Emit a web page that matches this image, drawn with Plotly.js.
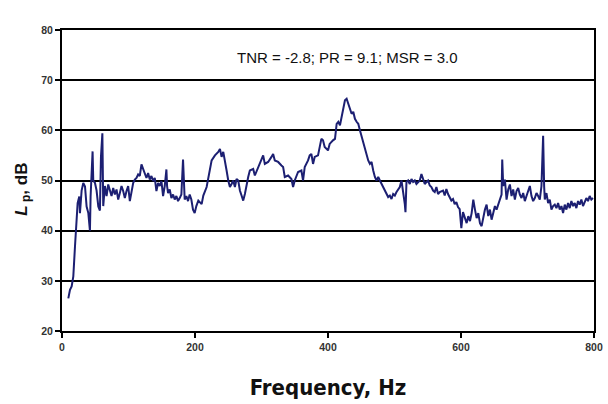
<!DOCTYPE html>
<html>
<head>
<meta charset="utf-8">
<script src="https://cdn.plot.ly/plotly-3.0.1.min.js"></script>
<style>html,body{margin:0;padding:0;background:#fff;}#chart{width:608px;height:404px;}</style>
</head>
<body>
<div id="chart"></div>
<script>
// Frequency (Hz) and sound pressure level L_p (dB)
const freqHz = [
  9.5,12,14.5,17,19.5,22,23.5,26,27,29.5,32,34.6,37,39.6,42,43,44.6,46,47,49.6,52,54.6,57,58.6,60.7,62,64.5,67,69.5,72,
  74.5,77,79.5,82,84.5,87,89.5,92,94.5,97,99.5,102,104.5,107,109.5,112,114.5,117,119.5,122,124.5,127,129.5,132,134.5,137,139.5,142,144.5,147,
  149.5,152,154.5,157,158,159.5,162,164.5,167,169.5,172,174.5,177,179.5,182,183,184.5,187,189.5,192,194.5,197,199.5,202,
  205,210,212.5,217.5,220,225,230,235,237.5,240,242.5,245,247.5,250,252.5,255,257.5,260,262.5,265,267.5,270,272.5,275,277.5,280,282.5,287.5,290,295,
  300,302.5,305,310,315,317.5,320,325,330,332.5,335,340,345,347.5,350,352.5,355,360,362.5,365,370,372.5,375,377.5,380,385,387.5,390,392.5,395,400,402.5,407.5,
  410.5,413,415.5,418,420.5,423,425.5,428,430.5,433,435.5,438,440.5,443,445.5,448,450.5,453,455.5,458,460.5,463,465.5,468,470.5,473,475.5,478,480.5,483,
  485.5,488,490.5,493,495.5,498,500.5,503,505.5,508,510.5,513,515.5,516.5,518,520.5,523,525.5,528,530.5,533,538,540.5,543,545.5,548,550.5,553,555.5,558,
  560.5,563,565.5,568,573,575.5,578,580.5,583,585.5,588,590.5,593,595.5,598,600.5,603,606,608.5,611,613.5,616,618.5,621,623.5,626,628.5,631,633.5,636,
  638.5,641,643.5,646,648.5,651,653.5,656,658.5,661,662,663.5,666,668.5,671,673.5,676,678.5,681,683.5,686,688.5,691,693.5,696,698.5,701,703.5,706,708.5,
  711,713.5,716,718.5,721,723.5,725,726,728.5,731,733.5,736,738.5,741,743.5,746,748.5,751,753.5,756,758.5,761,763.5,766,768.5,771,773.5,776,778.5,781,
  783.5,786,788.5,791,793.5,796,798.5
];
const levelDb = [
  26.5,28.2,28.9,30.9,36.8,42,45.5,46.8,43.5,48,49.5,48.8,44.8,43.5,40,46.8,52.8,55.8,50,49.5,48,44.8,44,54.8,59.4,44.9,48.9,46.9,49.2,47.9,
  46.9,48.5,47.2,48.2,46.2,47.5,48.9,47.9,46.5,47.9,48.9,45.9,48.2,49.5,50.2,50.5,51.2,50.9,53.2,52.2,51.2,50.5,51.5,50.2,50.9,49.9,50.5,47.9,49.5,48.9,
  49.9,46.9,48.9,52.2,48.9,47.5,48.2,46.5,47.2,46.2,46.9,45.9,46.5,47.2,54.2,48.9,46.2,46.9,45.9,47.2,46.2,44.2,43.5,44.9,
  46,45.3,47,48.7,50.7,54,55,55.7,56.3,54.7,55.7,53.3,52,50,48.7,49.3,50,48.7,50.3,50,48,47,46,47.3,49.3,50.7,52,52.3,51,52.7,
  54.3,55,53.3,53.7,54.7,55.3,54,53.7,53,52.7,50.7,51,50.3,48.7,50,50.7,51.7,52,50,52.7,54,55,55.3,53.3,54.7,55,57,58.3,58,56.7,56,57.3,58,
  58.3,61.3,61.7,61,62.7,64.7,66,66.3,65.3,64,63.3,63.7,62.3,61.7,61.3,60,58.7,57.3,56,54.7,54,53.3,53.7,52,50.7,50,50.7,50,49.3,48.7,
  48,47.3,46.7,47,46.3,47.3,47,47.7,48.3,48.7,50,48,45.3,43.7,49.7,50,49.3,50.3,49.7,50,49.3,50,51.3,50.3,49.3,49.7,50,49,48.7,48,
  47.7,48.7,47.3,47.7,48,47,48.3,47.3,46.7,46,46.3,45.3,45.7,44.7,44.3,40.5,43.7,42.2,41.5,42.9,41.9,43.5,46.2,44.2,42.5,43.5,41.5,40.9,42.9,44.2,
  45.2,42.9,44.2,42.2,43.5,44.9,44.2,45.5,46.2,47.2,54.2,48.9,50.2,46.2,48.2,49.2,46.9,48.2,46.2,47.9,48.5,47.2,46.5,47.5,45.9,46.9,47.9,48.9,46.9,45.9,
  46.5,47.5,46.9,46.2,48.9,58.9,48.9,46.2,47.5,45.5,46.2,44.2,44.9,45.2,44.5,45.5,44.2,44.9,43.5,45.2,44.2,45.5,44.5,45.9,44.9,45.5,44.5,45.9,45.2,46.2,
  44.9,45.9,46.5,45.9,46.9,46.2,46.5
];
const xTicks = [0, 200, 400, 600, 800];
const yTicks = [20, 30, 40, 50, 60, 70, 80];
const noteText = 'TNR = -2.8; PR = 9.1; MSR = 3.0';

const trace = {
  x: freqHz, y: levelDb, type: 'scatter', mode: 'lines',
  line: {color: '#1c1f72', width: 2}, hoverinfo: 'skip'
};
const tickFont = {family: 'Liberation Sans, Arial, sans-serif', size: 10.5, color: '#333', weight: 'bold'};
const layout = {
  width: 608, height: 404,
  margin: {l: 62, r: 14, t: 30, b: 73},
  paper_bgcolor: '#fff', plot_bgcolor: '#fff',
  showlegend: false,
  xaxis: {
    range: [0, 800], tickvals: xTicks, ticktext: xTicks.map(String),
    showgrid: false, zeroline: false,
    showline: true, linecolor: '#000', linewidth: 2, mirror: true,
    ticks: 'outside', ticklen: 5, tickwidth: 2, tickcolor: '#000',
    tickfont: tickFont,
    title: {text: 'Frequency, Hz', font: {family: 'Liberation Sans Narrow, DejaVu Sans Condensed, Liberation Sans, sans-serif', size: 22, color: '#111', weight: 'bold'}, standoff: 28}
  },
  yaxis: {
    range: [20, 80], tickvals: yTicks, ticktext: yTicks.map(String),
    showgrid: true, gridcolor: '#000', gridwidth: 2, zeroline: false,
    showline: true, linecolor: '#000', linewidth: 2, mirror: true,
    ticks: 'outside', ticklen: 5, tickwidth: 2, tickcolor: '#000',
    tickfont: tickFont
  },
  annotations: [
    {text: noteText, xref: 'paper', yref: 'paper', x: 0.536, y: 0.91, xanchor: 'center', yanchor: 'middle',
     showarrow: false, font: {family: 'Liberation Sans, Arial, sans-serif', size: 15, color: '#111'}},
    {text: '<i>L</i><sub> p</sub>, dB', xref: 'paper', yref: 'paper', x: -0.075, y: 0.47, xanchor: 'center', yanchor: 'middle',
     textangle: -90, showarrow: false, font: {family: 'Liberation Sans, Arial, sans-serif', size: 17, color: '#111', weight: 'bold'}}
  ]
};
Plotly.newPlot('chart', [trace], layout, {displayModeBar: false, staticPlot: true});
</script>
</body>
</html>
